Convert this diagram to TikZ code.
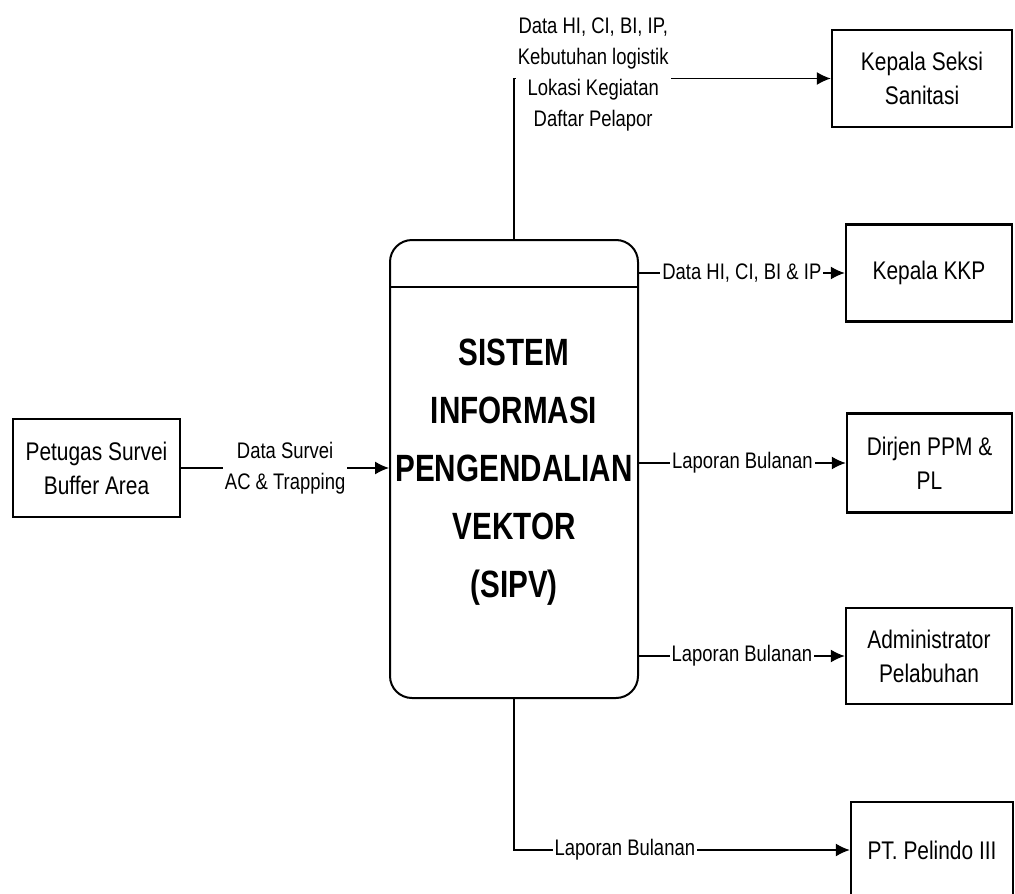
\documentclass[tikz,border=0pt]{standalone}
\usepackage{fontspec}
\setmainfont{Liberation Sans}[FakeStretch=0.82]
\newfontfamily\sipvfont{Liberation Sans}[FakeStretch=0.78]
\usetikzlibrary{arrows.meta}
\begin{document}
\begin{tikzpicture}[x=1pt,y=-1pt]
		\tikzset{entity/.style={draw,line width=2.5pt,inner sep=0pt,align=center,font=\fontsize{25.5}{34}\selectfont},
			flowlbl/.style={fill=white,inner sep=2pt,align=center,font=\fontsize{22.5}{31}\selectfont},
			flow/.style={line width=1.3pt,-{Latex[length=14pt,width=13pt]}}}
		\useasboundingbox (0,0) rectangle (1015,894);
		%Process
		\node[draw,line width=2pt,rounded corners=22pt,minimum width=248pt,minimum height=458pt] (sipv) at (514,469) {};
		\draw[line width=1.5pt] ([yshift=-48pt]sipv.north west) -- ([yshift=-48pt]sipv.north east);
		\node[font=\sipvfont\bfseries\fontsize{38}{58}\selectfont,align=center] (sipvtxt) at (514,472) {SISTEM\\INFORMASI\\PENGENDALIAN\\VEKTOR\\(SIPV)};
		%Entities
		\node[entity,minimum width=167pt,minimum height=98pt] (petugas) at (96.5,468) {Petugas Survei\\Buffer Area};
		\node[entity,minimum width=180pt,minimum height=97pt] (seksi) at (922,78.5) {Kepala Seksi\\Sanitasi};
		\node[entity,minimum width=166pt,minimum height=97pt] (kkp) at (929,273) {Kepala KKP};
		\node[entity,minimum width=165pt,minimum height=99pt] (dirjen) at (929.5,463) {Dirjen PPM \&\\PL};
		\node[entity,minimum width=166pt,minimum height=96pt] (admin) at (929,656) {Administrator\\Pelabuhan};
		\node[entity,minimum width=162pt,minimum height=96pt] (pelindo) at (932,850) {PT. Pelindo III};
		%Flows
		\coordinate (topbend) at (sipv.north |- seksi.west);
		\coordinate (botbend) at (sipv.south |- pelindo.west);
		\draw[flow] (petugas.east) -- (petugas.east -| sipv.west) node[flowlbl,midway]{Data Survei\\AC \& Trapping};
		\draw[flow] (sipv.north) -- (topbend) -- (seksi.west) node[flowlbl,pos=0.25,yshift=4pt]{Data HI, CI, BI, IP,\\Kebutuhan logistik\\Lokasi Kegiatan\\Daftar Pelapor};
		\draw[flow] (sipv.east |- kkp.west) -- (kkp.west) node[flowlbl,midway]{Data HI, CI, BI \& IP};
		\draw[flow] (sipv.east |- dirjen.west) -- (dirjen.west) node[flowlbl,midway]{Laporan Bulanan};
		\draw[flow] (sipv.east |- admin.west) -- (admin.west) node[flowlbl,midway]{Laporan Bulanan};
		\draw[flow] (sipv.south) -- (botbend) -- (pelindo.west) node[flowlbl,pos=0.33]{Laporan Bulanan};
	\end{tikzpicture}
\end{document}
